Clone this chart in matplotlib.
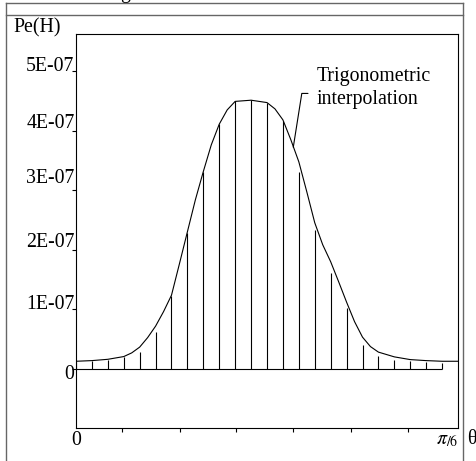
import numpy as np
import matplotlib
matplotlib.use('Agg')
import matplotlib.pyplot as plt
from matplotlib.lines import Line2D
from matplotlib.transforms import ScaledTranslation

plt.rcParams['font.family'] = ['Liberation Serif', 'DejaVu Serif']
plt.rcParams['mathtext.fontset'] = 'stix'

# sample index along theta (24 samples over [0, pi/6))
n_samples = 24
stem_k = np.arange(n_samples)
# Pe(H) at the samples, units of 1e-7
stem_vals = [0.118, 0.123, 0.151, 0.19, 0.274, 0.61, 1.227, 2.28, 3.316, 4.11,
             4.496, 4.521, 4.476, 4.168, 3.316, 2.328, 1.613, 1.02, 0.403,
             0.213, 0.151, 0.123, 0.113, 0.096]

# trigonometric interpolation curve (index, 1e-7)
curve_k = [0, 1, 2, 3, 3.5, 4, 4.5, 5, 5.5, 6, 6.5, 7, 7.5, 8, 8.5, 9, 9.5,
           10, 11, 12, 12.5, 13, 13.5, 14, 14.5, 15, 15.5, 16, 16.5, 17, 17.5,
           18, 18.5, 19, 20, 21, 22, 23, 24]
curve_vals = [0.123, 0.134, 0.156, 0.202, 0.264, 0.361, 0.521, 0.714, 0.958,
              1.235, 1.765, 2.303, 2.84, 3.316, 3.765, 4.113, 4.353, 4.496,
              4.516, 4.476, 4.37, 4.185, 3.849, 3.479, 2.975, 2.454, 2.084,
              1.798, 1.462, 1.118, 0.79, 0.529, 0.37, 0.277, 0.197, 0.151,
              0.134, 0.123, 0.123]

ytick_vals = [0, 1, 2, 3, 4, 5]
ytick_labels = ['0', '1E-07', '2E-07', '3E-07', '4E-07', '5E-07']
# unlabeled ticks on theta axis, as fraction of pi/6
xminor_frac = [0.1204, 0.2723, 0.4188, 0.5681, 0.7199, 0.8691]

scale = 1e-7
theta_max = np.pi / 6
stem_theta = stem_k * theta_max / n_samples
curve_theta = np.array(curve_k) * theta_max / n_samples

W, H = 477, 461
fig = plt.figure(figsize=(W / 100, H / 100), dpi=100)
ax = fig.add_axes([76 / W, (H - 428) / H, (458 - 76) / W, (428 - 34) / H])

fs = 14.3
lw = 0.8

ax.vlines(stem_theta, 0, np.array(stem_vals) * scale, color='black', lw=lw)
ax.hlines(0, stem_theta[0], stem_theta[-1], color='black', lw=lw)
ax.plot(curve_theta, np.array(curve_vals) * scale, color='black', lw=lw)

ax.set_xlim(0, theta_max)
ax.set_ylim(-1.0e-7, 5.63e-7)

for s in ax.spines.values():
    s.set_linewidth(lw)

ax.set_yticks(np.array(ytick_vals) * scale, ytick_labels)
ax.tick_params(axis='y', direction='out', length=3, width=lw, pad=-2,
               labelsize=fs)
# labels sit a bit above their tick marks in the original
label_dy = [-3, 7.5, 10, 14, 9.5, 7.5]
for tick, dy in zip(ax.yaxis.get_major_ticks(), label_dy):
    lab = tick.label1
    lab.set_transform(lab.get_transform() +
                      ScaledTranslation(0, dy / 100, fig.dpi_scale_trans))

ax.set_xticks([0, theta_max], ['0', r'$\pi_{/6}$'])
ax.set_xticks(np.array(xminor_frac) * theta_max, minor=True)
ax.tick_params(axis='x', which='major', length=0, pad=2, labelsize=fs)
ax.tick_params(axis='x', which='minor', direction='out', length=3, width=lw)
xl = ax.get_xticklabels()
xl[1].set_horizontalalignment('right')

ax.text(1.037, -0.030, 'θ', transform=ax.transAxes, fontsize=fs,
        ha='center', va='center')

# leader line for the curve label
ax.annotate('', xy=(0.5688 * theta_max, 3.725e-7),
            xytext=(0.6073 * theta_max, 4.63e-7),
            arrowprops=dict(arrowstyle='-', lw=lw, color='black',
                            shrinkA=0, shrinkB=0, patchA=None,
                            connectionstyle='angle,angleA=180,angleB=81,rad=0'))
ax.text(0.6309 * theta_max, 4.46e-7, 'Trigonometric\ninterpolation',
        fontsize=fs, ha='left', va='baseline', linespacing=1.27)

fig.text(13 / W, 1 - 28 / H, 'Pe(H)', fontsize=fs, ha='left', va='center')
fig.text(120 / W, 1 + 2 / H, 'g', fontsize=fs, ha='left', va='baseline')

# outer frame
frame_col = '#666666'
for xs, ys in [([6.5, 6.5], [3, H]), ([463.5, 463.5], [3, H]),
               ([6.5, 463.5], [3, 3]), ([6.5, 463.5], [15, 15])]:
    fig.add_artist(Line2D(np.array(xs) / W, 1 - np.array(ys) / H,
                          transform=fig.transFigure, color=frame_col, lw=1.0))

fig.savefig('out.png', dpi=100)
